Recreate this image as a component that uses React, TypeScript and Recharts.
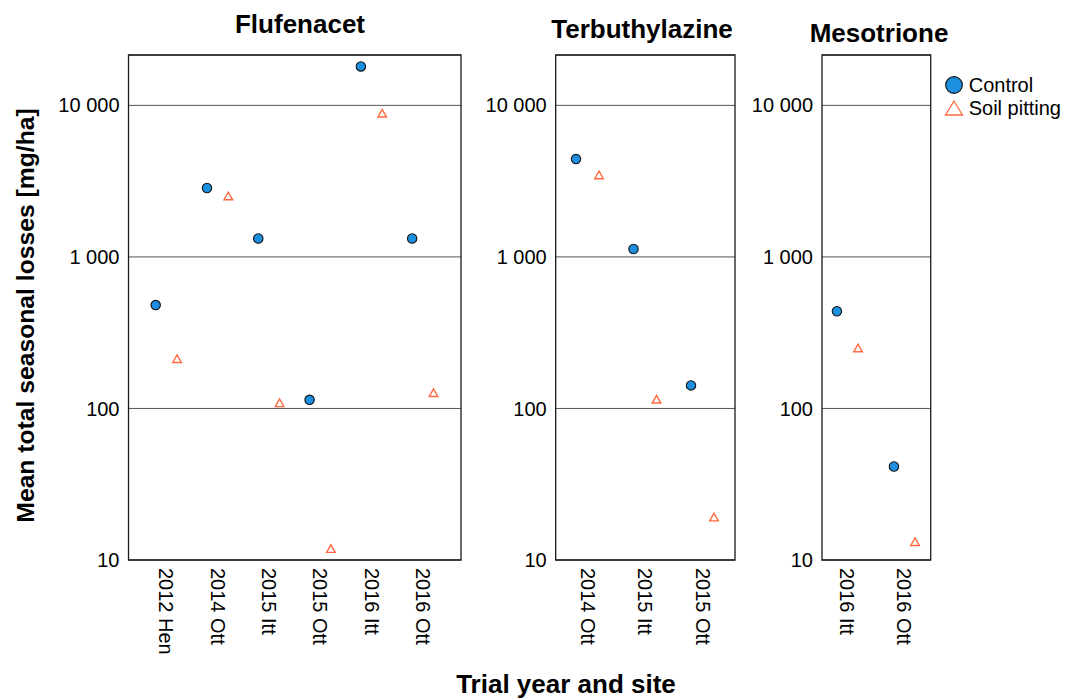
import React from 'react';
import { ScatterChart, Scatter, XAxis, YAxis, CartesianGrid, ReferenceArea, Legend } from 'recharts';

// ---------- data ----------
const flufenacetSites = ['2012 Hen', '2014 Ott', '2015 Itt', '2015 Ott', '2016 Itt', '2016 Ott'];
const flufenacetControl = [481, 2850, 1324, 114, 18070, 1324];
const flufenacetPitting = [213, 2526, 109, 11.9, 8870, 127];

const terbuthylazineSites = ['2014 Ott', '2015 Itt', '2015 Ott'];
const terbuthylazineControl = [4424, 1128, 142];
const terbuthylazinePitting = [3476, 115, 19.2];

const mesotrioneSites = ['2016 Itt', '2016 Ott'];
const mesotrioneControl = [438, 41.4];
const mesotrionePitting = [251, 13.2];

const yTicks = [10, 100, 1000, 10000];
const seriesNames = ['Control', 'Soil pitting'];
const panelTitles = ['Flufenacet', 'Terbuthylazine', 'Mesotrione'];

// ---------- style ----------
const FONT = '"Liberation Sans", Arial, Helvetica, sans-serif';
const BLUE = '#1C8FE0';
const ORANGE = '#FF6A40';
const Y_DOMAIN: [number, number] = [10, 21500];

const fmtY = (v: number) => String(v).replace(/\B(?=(\d{3})+(?!\d))/g, ' ');

const CircleShape = (props: any) => {
  const { cx, cy } = props;
  if (cx == null || cy == null) return null;
  return <circle cx={cx} cy={cy} r={4.7} fill={BLUE} stroke="#111" strokeWidth={1.1} />;
};

const TriangleShape = (props: any) => {
  const { cx, cy } = props;
  if (cx == null || cy == null) return null;
  const w = 4.3;
  const h = 3.8;
  const d = `M${cx},${cy - h} L${cx + w},${cy + h} L${cx - w},${cy + h} Z`;
  return <path d={d} fill="none" stroke={ORANGE} strokeWidth={1.4} strokeLinejoin="miter" />;
};

const makeXTick = (labels: string[]) => (props: any) => {
  const { x, y, payload } = props;
  const label = labels[Math.round(payload.value) - 1] ?? '';
  return (
    <text
      transform={`translate(${x},${y}) rotate(90)`}
      textAnchor="start"
      dominantBaseline="central"
      fontSize={20}
      fontFamily={FONT}
      fill="#000"
    >
      {label}
    </text>
  );
};

const renderLegend = (props: any) => {
  const payload = props.payload ?? [];
  return (
    <div style={{ fontFamily: FONT, fontSize: 20, color: '#000' }}>
      {payload.map((entry: any, i: number) => (
        <div key={i} style={{ display: 'flex', alignItems: 'center', height: 23 }}>
          <svg width={20} height={20} style={{ marginRight: 5 }}>
            {i === 0 ? (
              <circle cx={10} cy={10} r={8.3} fill={BLUE} stroke="#111" strokeWidth={1.2} />
            ) : (
              <path d="M10,3 L18.5,17 L1.5,17 Z" fill="none" stroke={ORANGE} strokeWidth={1.3} />
            )}
          </svg>
          <span style={{ lineHeight: '23px' }}>{entry.value}</span>
        </div>
      ))}
    </div>
  );
};

interface PanelProps {
  sites: string[];
  control: number[];
  pitting: number[];
  left: number;
  width: number;
  yAxisWidth: number;
  marginRight: number;
  xDomain: [number, number];
  dodge: number;
  legendLeft?: number;
}

const Panel = ({ sites, control, pitting, left, width, yAxisWidth, marginRight, xDomain, dodge, legendLeft }: PanelProps) => {
  const controlData = sites.map((s, i) => ({ x: i + 1 - dodge, y: control[i], site: s }));
  const pittingData = sites.map((s, i) => ({ x: i + 1 + dodge, y: pitting[i], site: s }));
  const xTicks = sites.map((_, i) => i + 1);
  return (
    <div style={{ position: 'absolute', left, top: 0 }}>
      <ScatterChart width={width} height={699} margin={{ top: 55, right: marginRight, bottom: 39, left: 0 }}>
        <CartesianGrid vertical={false} horizontal stroke="#555" strokeWidth={1} />
        <XAxis
          type="number"
          dataKey="x"
          domain={xDomain}
          allowDataOverflow
          ticks={xTicks}
          interval={0}
          axisLine={false}
          tickLine={false}
          height={100}
          tick={makeXTick(sites)}
        />
        <YAxis
          type="number"
          dataKey="y"
          scale="log"
          domain={Y_DOMAIN}
          allowDataOverflow
          ticks={yTicks}
          interval={0}
          axisLine={false}
          tickLine={false}
          tickSize={6}
          tickMargin={3}
          width={yAxisWidth}
          tickFormatter={fmtY}
          tick={{ fontSize: 20, fontFamily: FONT, fill: '#000' }}
        />
        <ReferenceArea
          x1={xDomain[0]}
          x2={xDomain[1]}
          y1={Y_DOMAIN[0]}
          y2={Y_DOMAIN[1]}
          fill="none"
          stroke="#1a1a1a"
          strokeWidth={1.3}
          ifOverflow="visible"
        />
        <Scatter name={seriesNames[0]} data={controlData} fill={BLUE} shape={CircleShape} isAnimationActive={false} />
        <Scatter name={seriesNames[1]} data={pittingData} fill={ORANGE} shape={TriangleShape} isAnimationActive={false} />
        {legendLeft != null ? (
          <Legend
            layout="vertical"
            align="center"
            verticalAlign="middle"
            content={renderLegend}
            wrapperStyle={{ position: 'absolute', left: legendLeft, top: 73.5, width: 125, height: 50 }}
          />
        ) : null}
      </ScatterChart>
    </div>
  );
};

export default function App() {
  return (
    <div style={{ position: 'absolute', left: 0, top: 0, width: 1065, height: 699, background: '#fff', overflow: 'hidden' }}>
      <Panel
        sites={flufenacetSites}
        control={flufenacetControl}
        pitting={flufenacetPitting}
        left={30}
        width={440}
        yAxisWidth={98.5}
        marginRight={9}
        xDomain={[0.262, 6.744]}
        dodge={0.208}
      />
      <Panel
        sites={terbuthylazineSites}
        control={terbuthylazineControl}
        pitting={terbuthylazinePitting}
        left={460}
        width={280}
        yAxisWidth={95.7}
        marginRight={5}
        xDomain={[0.447, 3.565]}
        dodge={0.2}
      />
      <Panel
        sites={mesotrioneSites}
        control={mesotrioneControl}
        pitting={mesotrionePitting}
        left={735}
        width={330}
        yAxisWidth={87}
        marginRight={134.3}
        xDomain={[0.553, 2.46]}
        dodge={0.185}
        legendLeft={208.7}
      />
      <svg width={1065} height={699} style={{ position: 'absolute', left: 0, top: 0, pointerEvents: 'none' }}>
        <g fontFamily={FONT} fontWeight="bold" fill="#000">
          <text x={300} y={33} textAnchor="middle" fontSize={26}>{panelTitles[0]}</text>
          <text x={642} y={38} textAnchor="middle" fontSize={26}>{panelTitles[1]}</text>
          <text x={879} y={42} textAnchor="middle" fontSize={26}>{panelTitles[2]}</text>
          <text x={566} y={693} textAnchor="middle" fontSize={26}>Trial year and site</text>
          <text transform="translate(34,315.5) rotate(-90)" textAnchor="middle" fontSize={24.7}>Mean total seasonal losses [mg/ha]</text>
        </g>
      </svg>
    </div>
  );
}
